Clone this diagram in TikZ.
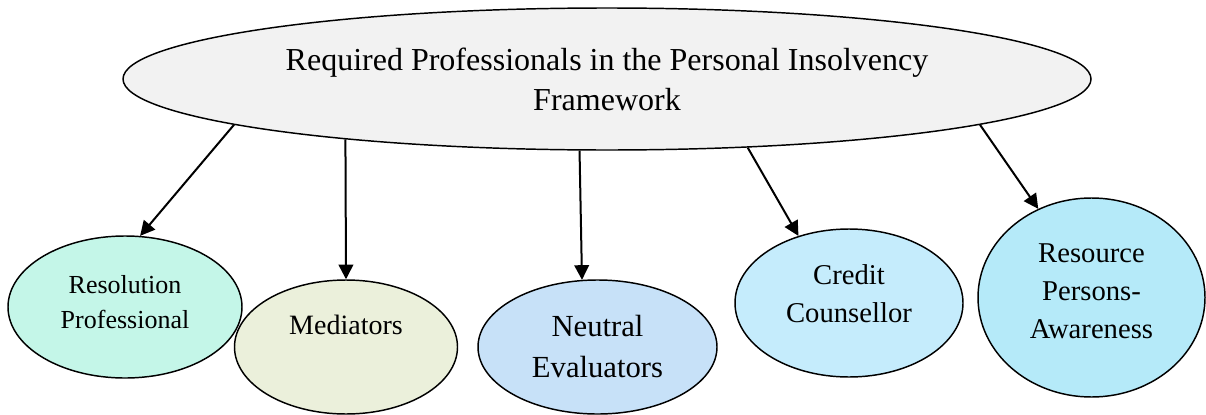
\documentclass[tikz,border=0pt]{standalone}
\usepackage{fontspec}
\setmainfont{Liberation Serif}
\usetikzlibrary{shapes.geometric,arrows.meta}

\definecolor{headfill}{HTML}{F2F2F2}
\definecolor{resfill}{HTML}{C4F6E8}
\definecolor{medfill}{HTML}{EBF0DB}
\definecolor{neufill}{HTML}{C7E1F8}
\definecolor{crefill}{HTML}{C5ECFC}
\definecolor{rpfill}{HTML}{B5EAF9}

\tikzset{
  oval/.style 2 args={ellipse, draw=black, line width=1.1pt, inner sep=0pt,
    align=center, minimum width=#1*0.75pt, minimum height=#2*0.75pt},
  fsz/.style 2 args={font=\fontsize{#1}{#2}\selectfont},
  link/.style={line width=1.5pt, -{Triangle[length=11pt,width=11pt]}}
}

\begin{document}
\begin{tikzpicture}[x=0.75pt, y=-0.75pt]
  \useasboundingbox (0,0) rectangle (1206,414);

  % central ellipse
  \node[oval={968}{142}, fill=headfill, fsz={24}{30}] (head) at (607,79)
    {Required Professionals in the Personal Insolvency\\Framework};

  % the five professional groups
  \node[oval={234}{142}, fill=resfill, fsz={19.5}{26.25}, text depth=8pt]
    (res) at (125,307) {Resolution\\Professional};
  \node[oval={223}{134}, fill=medfill, fsz={21}{26}, text depth=33pt]
    (med) at (346,347) {Mediators};
  \node[oval={239}{134}, fill=neufill, fsz={23}{30.75}]
    (neu) at (597.5,347) {Neutral\\Evaluators};
  \node[oval={228}{148}, fill=crefill, fsz={21.5}{28.5}, text depth=14pt]
    (cre) at (849,303) {Credit\\Counsellor};
  \node[oval={227}{199}, fill=rpfill, fsz={21.5}{28.5}, text depth=10pt]
    (rp) at (1091.5,297.5) {Resource\\Persons-\\Awareness};

  % connectors
  \draw[link] (head.187.0) -- (res.78.2);
  \draw[link] (head.193.2) -- (med.90);
  \draw[link] (head.249.9) -- (neu.103.8);
  \draw[link] (head.334.7) -- (cre.127.6);
  \draw[link] (head.353.3) -- (rp.121.3);
\end{tikzpicture}
\end{document}
